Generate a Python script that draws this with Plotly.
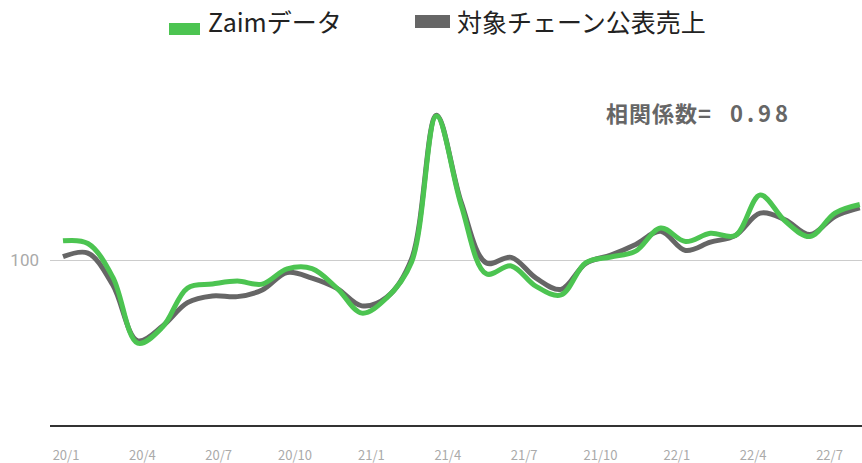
import plotly.graph_objects as go

# ---- data -------------------------------------------------------------
months = ["20/1", "20/2", "20/3", "20/4", "20/5", "20/6", "20/7", "20/8", "20/9",
          "20/10", "20/11", "20/12", "21/1", "21/2", "21/3", "21/4", "21/5", "21/6",
          "21/7", "21/8", "21/9", "21/10", "21/11", "21/12", "22/1", "22/2", "22/3",
          "22/4", "22/5", "22/6", "22/7", "22/8", "22/9"]
zaim = [105.8, 105.0, 94.8, 74.8, 79.7, 91.5, 92.7, 93.6, 92.7, 97.3, 97.4, 91.5,
        83.9, 88.5, 99.4, 143.6, 116.4, 95.8, 98.2, 92.0, 89.4, 99.2, 100.9, 102.7,
        109.7, 105.6, 108.1, 107.4, 119.7, 111.8, 107.1, 114.2, 116.8]
chain = [101.0, 102.1, 92.4, 75.5, 80.0, 87.1, 89.1, 88.9, 90.9, 96.2, 94.5, 91.4,
         86.1, 88.7, 100.3, 143.9, 117.3, 99.1, 100.8, 94.5, 91.1, 99.0, 101.5, 104.7,
         108.7, 102.9, 105.4, 107.4, 114.2, 112.2, 107.7, 113.2, 115.8]
tick_labels = ["20/1", "20/4", "20/7", "20/10", "21/1", "21/4", "21/7", "21/10",
               "22/1", "22/4", "22/7"]
tick_index = [months.index(t) for t in tick_labels]
series_names = ["Zaimデータ", "対象チェーン公表売上"]
corr_label = "相関係数="
corr_value = "0.98"

GREEN = "#4cc451"
GRAY = "#666666"
CJK = "Noto Sans CJK JP"

x = list(range(len(months)))

fig = go.Figure()
fig.add_trace(go.Scatter(x=x, y=chain, mode="lines", name=series_names[1],
                         line=dict(color=GRAY, width=5, shape="spline", smoothing=1.0),
                         showlegend=False, hoverinfo="skip"))
fig.add_trace(go.Scatter(x=x, y=zaim, mode="lines", name=series_names[0],
                         line=dict(color=GREEN, width=5, shape="spline", smoothing=1.0),
                         showlegend=False, hoverinfo="skip"))
# empty helper trace so that the month-label axis is drawn
fig.add_trace(go.Scatter(x=tick_index, y=[None] * len(tick_index), xaxis="x2",
                         mode="lines", showlegend=False, hoverinfo="skip"))

W, H = 862, 463
ML, MR, MT, MB = 50, 0, 62, 38
pw, ph = W - ML - MR, H - MT - MB


def px(xp):
    return (xp - ML) / pw


def py(yp):
    return (H - MB - yp) / ph


# data axis: first point at 63px, 24.9px per step
step = 24.9
xa0 = -(63 - ML) / step
xa1 = xa0 + pw / step
# label axis
lstep = 25.45
la0 = -(66 - ML) / lstep
la1 = la0 + pw / lstep

fig.update_layout(
    width=W, height=H,
    margin=dict(l=ML, r=MR, t=MT, b=MB, autoexpand=False),
    paper_bgcolor="white", plot_bgcolor="white",
    font=dict(family=CJK),
    hovermode=False,
    xaxis=dict(range=[xa0, xa1], showticklabels=False, showgrid=False, zeroline=False,
               showline=True, linecolor="#333333", linewidth=2, ticks="",
               fixedrange=True),
    xaxis2=dict(range=[la0, la1], overlaying="x", anchor="y", side="bottom",
                tickmode="array", tickvals=tick_index, ticktext=tick_labels,
                showgrid=False, zeroline=False, showline=False, ticks="",
                ticklabelstandoff=21, fixedrange=True,
                tickfont=dict(family=CJK, size=13, color="#aaaaaa")),
    yaxis=dict(range=[50, 160], tickmode="array", tickvals=[100], ticktext=["100"],
               showgrid=True, gridcolor="#cccccc", gridwidth=1, zeroline=False,
               showline=False, ticks="", ticklabelstandoff=10, fixedrange=True,
               tickfont=dict(family="Roboto", size=17, color="#aaaaaa")),
    showlegend=False,
)

# manual legend
fig.add_shape(type="rect", xref="paper", yref="paper",
              x0=px(169), x1=px(200), y0=py(35), y1=py(23),
              fillcolor=GREEN, line=dict(width=0))
fig.add_shape(type="rect", xref="paper", yref="paper",
              x0=px(415), x1=px(450), y0=py(28), y1=py(15),
              fillcolor=GRAY, line=dict(width=0))
fig.add_annotation(xref="paper", yref="paper", x=px(206), y=py(21),
                   xanchor="left", yanchor="middle", showarrow=False,
                   text=series_names[0], font=dict(family=CJK, size=25, color="#222222"))
fig.add_annotation(xref="paper", yref="paper", x=px(455), y=py(21),
                   xanchor="left", yanchor="middle", showarrow=False,
                   text=series_names[1], font=dict(family=CJK, size=25, color="#222222"))
fig.add_annotation(xref="paper", yref="paper", x=px(604), y=py(112),
                   xanchor="left", yanchor="middle", showarrow=False,
                   text="<b><span style='letter-spacing:1px'>" + corr_label
                        + "</span><span style='letter-spacing:4px'>&nbsp;&nbsp;" + corr_value
                        + "</span></b>",
                   font=dict(family=CJK, size=22, color="#666666"))

fig.write_html("out.html", config={"displayModeBar": False, "staticPlot": True},
               post_script="document.body.style.margin='0';")
